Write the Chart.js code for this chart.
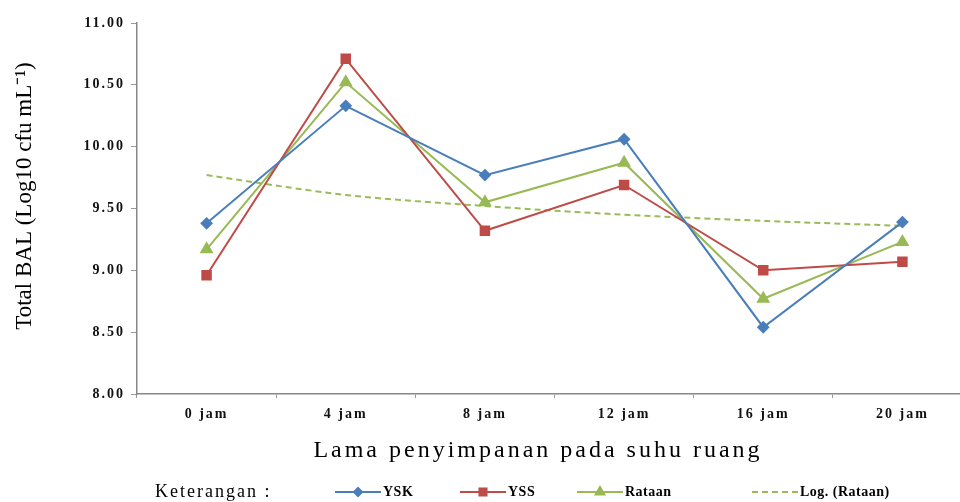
<!DOCTYPE html>
<html>
<head>
<meta charset="utf-8">
<script src="https://cdn.jsdelivr.net/npm/chart.js@4"></script>
<style>
  html, body { margin: 0; padding: 0; background: #fff; overflow: hidden; }
  #wrap { width: 980px; height: 502px; }
</style>
</head>
<body>
<div id="wrap"><canvas id="chart-bal"></canvas></div>
<script>
const labels = ['0 jam', '4 jam', '8 jam', '12 jam', '16 jam', '20 jam'];
const ysk = [9.38, 10.33, 9.77, 10.06, 8.54, 9.39];
const yss = [8.96, 10.71, 9.32, 9.69, 9.00, 9.07];
const rataan = [9.17, 10.52, 9.55, 9.87, 8.77, 9.23];
const logRataan = [9.77, 9.61, 9.52, 9.45, 9.40, 9.36];

const serif = 'Liberation Serif';
const yTitle = 'Total BAL (Log10 cfu mL⁻¹)';
const xTitle = 'Lama penyimpanan pada suhu ruang';

// wide letter spacing for the tick labels (scales are drawn before the datasets)
const spacing = {
    id: 'spacing',
    beforeDraw(chart) { chart.ctx.letterSpacing = '2px'; },
    beforeDatasetsDraw(chart) { chart.ctx.letterSpacing = '0px'; }
};

// axis titles + legend with "Keterangan :" in front
const extras = {
    id: 'extras',
    afterDraw(chart) {
        const ctx = chart.ctx;
        ctx.save();
        ctx.fillStyle = '#000';
        ctx.textAlign = 'center';
        ctx.textBaseline = 'middle';
        ctx.letterSpacing = '3px';
        ctx.font = '24px "' + serif + '"';
        ctx.fillText(xTitle, 538, 451);
        ctx.letterSpacing = '0px';
        ctx.font = '23px "' + serif + '"';
        ctx.translate(25, 196);
        ctx.rotate(-Math.PI / 2);
        ctx.fillText(yTitle, 0, 0);
        ctx.restore();

        const y = 492;
        const starts = [335, 460, 577, 752];
        ctx.save();
        ctx.textBaseline = 'middle';
        ctx.letterSpacing = '2px';
        ctx.font = '18px "' + serif + '"';
        ctx.fillStyle = '#000';
        ctx.fillText('Keterangan :', 155, y);
        chart.data.datasets.forEach((ds, i) => {
            const x = starts[i];
            ctx.strokeStyle = ds.borderColor;
            ctx.lineWidth = 2;
            ctx.setLineDash(ds.borderDash || []);
            ctx.beginPath();
            ctx.moveTo(x, y);
            ctx.lineTo(x + 46, y);
            ctx.stroke();
            ctx.setLineDash([]);
            if (ds.pointRadius > 0) {
                Chart.helpers.drawPoint(ctx, {
                    pointStyle: ds.pointStyle,
                    radius: ds.pointRadius - 1,
                    borderWidth: 1
                }, x + 23, y);
                ctx.fillStyle = ds.backgroundColor;
                ctx.fill();
            }
            ctx.fillStyle = '#000';
            ctx.font = 'bold 14px "' + serif + '"';
            ctx.letterSpacing = '0.5px';
            ctx.fillText(ds.label, x + 48, y);
        });
        ctx.restore();
    }
};

new Chart(document.getElementById('chart-bal').getContext('2d'), {
    type: 'line',
    data: {
        labels: labels,
        datasets: [{
            label: 'YSK',
            data: ysk,
            borderColor: '#4a7ebb',
            backgroundColor: '#4a7ebb',
            borderWidth: 2,
            pointStyle: 'rectRot',
            pointRadius: 5,
            tension: 0
        }, {
            label: 'YSS',
            data: yss,
            borderColor: '#be4b48',
            backgroundColor: '#be4b48',
            borderWidth: 2,
            pointStyle: 'rect',
            pointRadius: 6,
            tension: 0
        }, {
            label: 'Rataan',
            data: rataan,
            borderColor: '#98b954',
            backgroundColor: '#98b954',
            borderWidth: 2,
            pointStyle: 'triangle',
            pointRadius: 6,
            tension: 0
        }, {
            label: 'Log. (Rataan)',
            data: logRataan,
            borderColor: '#9bbb59',
            backgroundColor: '#9bbb59',
            borderWidth: 2,
            borderDash: [6, 4],
            pointRadius: 0,
            cubicInterpolationMode: 'monotone'
        }]
    },
    options: {
        responsive: true,
        maintainAspectRatio: false,
        animation: false,
        layout: { padding: { top: 23, right: 6, bottom: 0, left: 0 } },
        plugins: {
            legend: { display: false },
            tooltip: { enabled: false }
        },
        scales: {
            x: {
                offset: true,
                afterFit(scale) { scale.height = 108; },
                grid: {
                    offset: true,
                    drawOnChartArea: false,
                    drawTicks: true,
                    tickLength: 4,
                    color: '#999'
                },
                border: { color: '#888', width: 1.5 },
                ticks: {
                    color: '#111',
                    padding: 8,
                    font: { family: serif, size: 14, weight: 'bold' }
                }
            },
            y: {
                min: 8,
                max: 11,
                afterFit(scale) { scale.width = 137; },
                grid: {
                    drawOnChartArea: false,
                    drawTicks: true,
                    tickLength: 6,
                    color: '#999'
                },
                border: { color: '#888', width: 1.5 },
                ticks: {
                    stepSize: 0.5,
                    color: '#111',
                    padding: 6,
                    font: { family: serif, size: 14, weight: 'bold' },
                    callback: v => v.toFixed(2)
                }
            }
        }
    },
    plugins: [spacing, extras]
});
</script>
</body>
</html>
